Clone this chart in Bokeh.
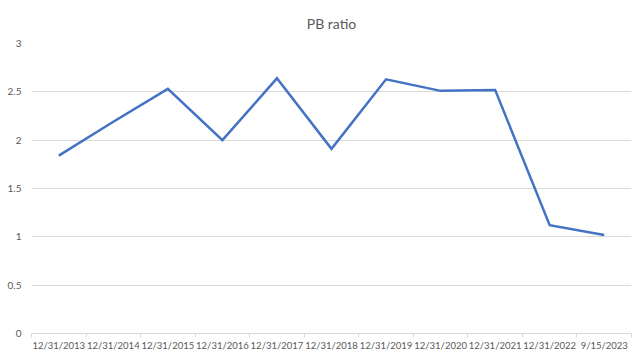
from bokeh.plotting import figure
from bokeh.models import Range1d, FixedTicker
from bokeh.embed import file_html
from bokeh.resources import INLINE

dates = ["12/31/2013", "12/31/2014", "12/31/2015", "12/31/2016", "12/31/2017",
         "12/31/2018", "12/31/2019", "12/31/2020", "12/31/2021", "12/31/2022", "9/15/2023"]
pb_ratio = [1.84, 2.19, 2.53, 2.0, 2.64, 1.91, 2.63, 2.51, 2.52, 1.12, 1.02]
y_ticks = [0, 0.5, 1, 1.5, 2, 2.5, 3]

FONT = "Lato"
GRAY = "#595959"

idx = list(range(len(dates)))
n = len(dates)

p = figure(width=632, height=353, x_range=Range1d(-0.5, n - 0.5), y_range=Range1d(0, 3),
           output_backend="svg", toolbar_location=None, title="PB ratio",
           min_border_left=31, min_border_right=1, min_border_top=43, min_border_bottom=0)
p.line(x=idx, y=pb_ratio, line_color="#4472C4", line_width=2.5, line_join="miter")

p.title.align = "center"
p.title.text_font = FONT
p.title.text_font_size = "14px"
p.title.text_font_style = "normal"
p.title.text_color = GRAY
p.title.standoff = 24

p.outline_line_color = None
p.xgrid.grid_line_color = None
p.ygrid.grid_line_color = "#d9d9d9"
p.ygrid.grid_line_width = 1

p.yaxis.ticker = FixedTicker(ticks=y_ticks)
p.yaxis.axis_line_color = None
p.yaxis.major_tick_line_color = None
p.yaxis.minor_tick_line_color = None
p.yaxis.major_tick_out = 0
p.yaxis.major_label_text_font = FONT
p.yaxis.major_label_text_font_size = "10px"
p.yaxis.major_label_text_color = GRAY
p.yaxis.major_label_standoff = 10

p.xaxis.ticker = FixedTicker(ticks=idx, minor_ticks=[i - 0.5 for i in range(n + 1)])
p.xaxis.major_label_overrides = {i: d for i, d in enumerate(dates)}
p.xaxis.axis_line_color = "#d9d9d9"
p.xaxis.major_tick_line_color = None
p.xaxis.major_tick_out = 0
p.xaxis.major_tick_in = 0
p.xaxis.minor_tick_line_color = "#d9d9d9"
p.xaxis.minor_tick_in = 0
p.xaxis.minor_tick_out = 4
p.xaxis.major_label_text_font = FONT
p.xaxis.major_label_text_font_size = "9.5px"
p.xaxis.major_label_text_color = GRAY
p.xaxis.major_label_standoff = 2

open("out.html", "w").write(file_html(p, INLINE))
